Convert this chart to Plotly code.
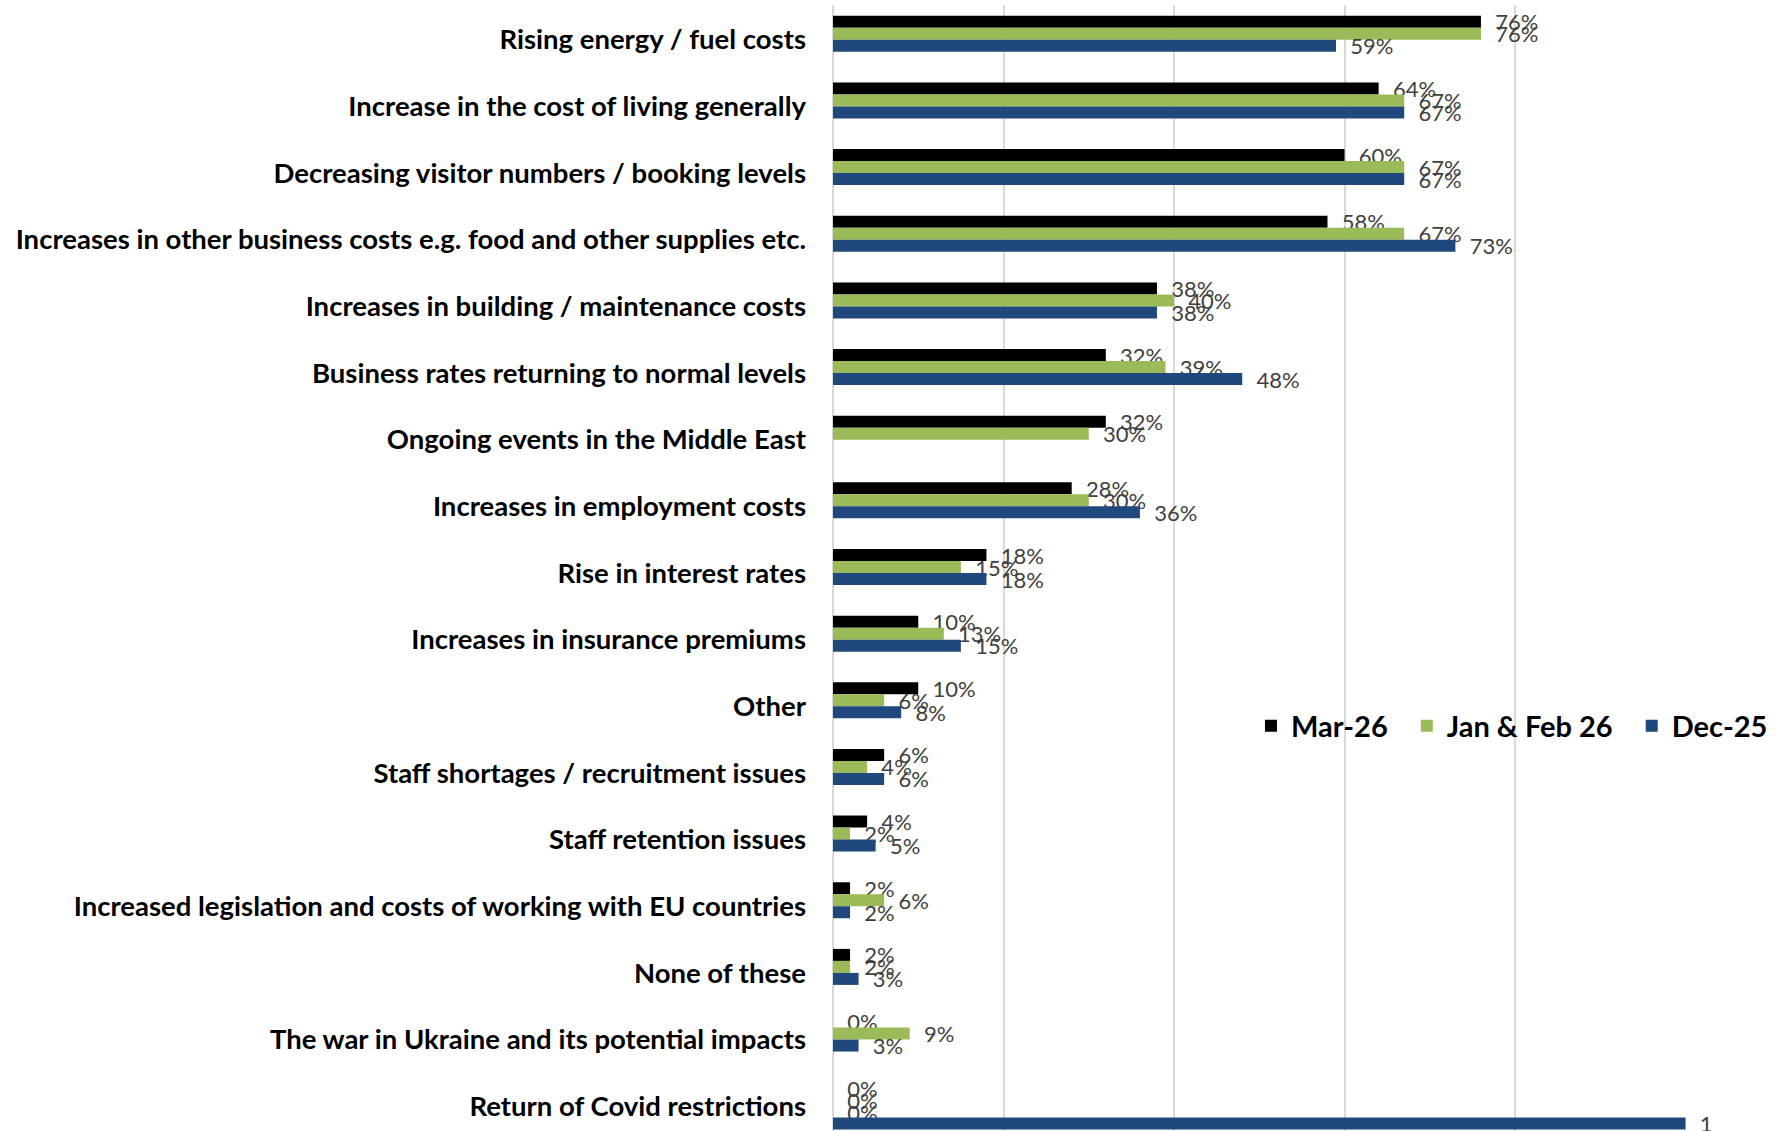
import plotly.graph_objects as go

# Pressures on the business, share of respondents (%)
categories = [
    "Rising energy / fuel costs",
    "Increase in the cost of living generally",
    "Decreasing visitor numbers / booking levels",
    "Increases in other business costs e.g. food and other supplies etc.",
    "Increases in building / maintenance costs",
    "Business rates returning to normal levels",
    "Ongoing events in the Middle East",
    "Increases in employment costs",
    "Rise in interest rates",
    "Increases in insurance premiums",
    "Other",
    "Staff shortages / recruitment issues",
    "Staff retention issues",
    "Increased legislation and costs of working with EU countries",
    "None of these",
    "The war in Ukraine and its potential impacts",
    "Return of Covid restrictions",
]

mar_26 = [76, 64, 60, 58, 38, 32, 32, 28, 18, 10, 10, 6, 4, 2, 2, 0, 0]
jan_feb_26 = [76, 67, 67, 67, 40, 39, 30, 30, 15, 13, 6, 4, 2, 6, 2, 9, 0]
dec_25 = [59, 67, 67, 73, 38, 48, None, 36, 18, 15, 8, 6, 5, 2, 3, 3, 0]

series_names = ["Mar-26", "Jan & Feb 26", "Dec-25"]
series_values = [mar_26, jan_feb_26, dec_25]
series_colors = ["#000000", "#9BBB59", "#1F497D"]

# helper series that pins the value axis at 1
scale_category = ["Return of Covid restrictions"]
scale_value = [1]
scale_text = ["1"]

BAR_W = 0.18
offsets = [-0.27, -0.09, 0.09]
PAD = "\u00a0\u00a0"
LABEL_FONT = dict(family="Lato, sans-serif", size=22, color="#404040")
GAP = "\u00a0\u00a0"

fig = go.Figure()
for i, (name, vals, color, off) in enumerate(zip(series_names, series_values, series_colors, offsets)):
    # spacing after every legend entry except the last
    legend_name = name + (GAP if i < len(series_names) - 1 else "")
    fig.add_trace(go.Bar(
        name=legend_name,
        y=categories,
        x=[None if v is None else v / 100 for v in vals],
        orientation="h",
        marker=dict(color=color, line=dict(width=0)),
        width=BAR_W,
        offset=off,
        text=["" if v is None else f"{PAD}{v}%" for v in vals],
        textposition="outside",
        textfont=LABEL_FONT,
        constraintext="none",
        cliponaxis=False,
    ))

fig.add_trace(go.Bar(
    name="scale",
    y=scale_category,
    x=scale_value,
    orientation="h",
    marker=dict(color=series_colors[2], line=dict(width=0)),
    width=BAR_W,
    offset=0.26,
    text=[PAD + t for t in scale_text],
    textposition="outside",
    textfont=LABEL_FONT,
    constraintext="none",
    cliponaxis=False,
    showlegend=False,
))

fig.update_layout(
    width=1779,
    height=1131,
    barmode="overlay",
    plot_bgcolor="white",
    paper_bgcolor="white",
    margin=dict(l=833, r=93, t=5, b=0, autoexpand=False),
    font=dict(family="Lato, sans-serif"),
    legend=dict(
        orientation="h",
        x=0.49,
        xanchor="left",
        y=0.3597,
        yanchor="middle",
        font=dict(family="Lato, sans-serif", size=29, color="black", weight="bold"),
        bgcolor="rgba(0,0,0,0)",
        traceorder="normal",
        itemwidth=30,
    ),
    xaxis=dict(
        range=[0, 1.0005],
        tick0=0,
        dtick=0.2,
        showticklabels=False,
        showgrid=True,
        gridcolor="#D9D9D9",
        gridwidth=2,
        zeroline=True,
        zerolinecolor="#D9D9D9",
        zerolinewidth=2,
        showline=False,
        fixedrange=True,
    ),
    yaxis=dict(
        type="category",
        categoryorder="array",
        categoryarray=categories,
        range=[16.462, -0.432],
        showgrid=False,
        showline=False,
        ticks="",
        ticklabelstandoff=26,
        ticklabelshift=-6,
        tickfont=dict(family="Lato, sans-serif", size=27.5, color="black", weight="bold"),
        fixedrange=True,
    ),
)

fig.write_html("out.html")
